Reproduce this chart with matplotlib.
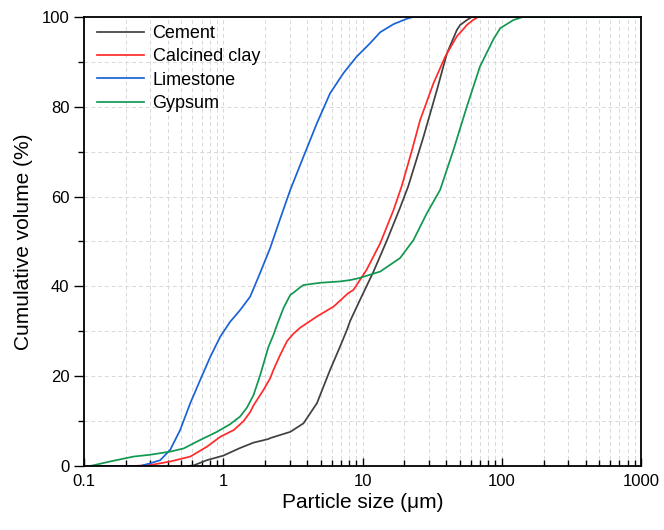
import numpy as np
import matplotlib.pyplot as plt
from matplotlib.ticker import LogLocator, MultipleLocator, FixedFormatter, FixedLocator

plt.rcParams['font.family'] = ['Liberation Sans', 'DejaVu Sans']

# Particle size (um) and cumulative volume (%)
cement_x = [0.55, 0.61, 0.764, 1.0, 1.12, 1.32, 1.56, 1.65, 2.11, 2.17, 3.03, 3.77, 4.71,
            5.85, 6.9, 7.73, 8.15, 9.6, 12.0, 15.0, 18.6, 21.3, 24.0, 27.4, 34.2, 40.4, 47.6,
            50.2, 56.1, 61.0, 1000]
cement_y = [0, 0.1, 1.3, 2.3, 3.0, 4.0, 4.9, 5.2, 6.0, 6.2, 7.6, 9.5, 14.0,
            21.4, 26.6, 30.3, 32.3, 37.0, 43.3, 50.3, 57.5, 62.3, 67.5, 73.3, 83.7, 91.9, 97.1,
            98.2, 99.3, 100, 100]

clay_x = [0.1, 0.226, 0.299, 0.416, 0.58, 0.764, 0.952, 1.12, 1.19, 1.40, 1.56, 1.65, 1.95,
          2.17, 2.30, 2.56, 2.87, 3.2, 3.57, 4.71, 6.2, 7.9, 8.6, 10.7, 13.4, 16.7, 19.2,
          22.5, 25.9, 32.3, 39.3, 47.6, 53.0, 56.1, 62.0, 67.8, 1000]
clay_y = [0, 0, 0.2, 1.0, 2.1, 4.3, 6.5, 7.6, 8.0, 10.0, 12.0, 13.5, 17.0,
          19.5, 21.5, 24.7, 27.8, 29.5, 30.8, 33.3, 35.5, 38.5, 39.2, 43.7, 49.6, 57.0, 62.5,
          70.0, 77.0, 85.2, 91.2, 95.7, 97.3, 98.2, 99.3, 100, 100]

lime_x = [0.1, 0.254, 0.299, 0.353, 0.416, 0.49, 0.58, 0.684, 0.807, 0.952, 1.12, 1.32,
          1.56, 1.84, 2.17, 2.56, 3.03, 3.77, 4.7, 5.85, 7.3, 9.1, 11.3, 13.4, 16.7, 20.8,
          23.2, 1000]
lime_y = [0, 0, 0.6, 1.3, 3.6, 8.0, 14.0, 19.2, 24.3, 28.8, 32.1, 34.7,
          37.7, 43.0, 48.5, 55.0, 61.5, 68.9, 76.3, 83.0, 87.5, 91.2, 94.1, 96.6, 98.4, 99.6,
          100, 100]

gyp_x = [0.111, 0.154, 0.227, 0.299, 0.416, 0.519, 0.684, 0.90, 1.12, 1.32, 1.48, 1.65,
         1.84, 2.11, 2.30, 2.43, 2.71, 3.03, 3.2, 3.57, 3.77, 4.97, 6.9, 8.15, 9.6, 13.4,
         18.6, 23.2, 29.0, 36.1, 45.0, 56.1, 69.6, 87.0, 97.5, 121.0, 142.0, 1000]
gyp_y = [0, 1.0, 2.1, 2.5, 3.2, 3.9, 5.8, 7.6, 9.3, 11.0, 13.0, 15.8,
         20.2, 26.5, 29.3, 31.4, 35.2, 38.1, 38.6, 39.8, 40.3, 40.8, 41.1, 41.4, 41.9, 43.3,
         46.3, 50.3, 56.3, 61.5, 70.4, 80.0, 88.9, 95.0, 97.5, 99.3, 100, 100]

series = [
    ('Cement', cement_x, cement_y, '#404040'),
    ('Calcined clay', clay_x, clay_y, '#ff2a2a'),
    ('Limestone', lime_x, lime_y, '#1a62d8'),
    ('Gypsum', gyp_x, gyp_y, '#109850'),
]

fig = plt.figure(figsize=(6.64, 5.30), dpi=100)
ax = fig.add_axes([0.1265, 0.1208, 0.8389, 0.8472])

for name, xs, ys, col in series:
    ax.plot(xs, ys, color=col, lw=1.25, label=name)

ax.set_xscale('log')
ax.set_xlim(0.1, 1000)
ax.set_ylim(0, 100)

ax.xaxis.set_major_locator(FixedLocator([0.1, 1, 10, 100, 1000]))
ax.xaxis.set_major_formatter(FixedFormatter(['0.1', '1', '10', '100', '1000']))
ax.xaxis.set_minor_locator(LogLocator(base=10, subs=np.arange(2, 10)))
ax.yaxis.set_major_locator(MultipleLocator(20))
ax.yaxis.set_minor_locator(MultipleLocator(10))

ax.grid(True, which='both', color='#d8d8d8', ls=(0, (4, 3)), lw=0.7)
ax.set_axisbelow(True)

ax.tick_params(axis='x', which='major', direction='in', length=6, width=1, labelsize=12, pad=6)
ax.tick_params(axis='x', which='minor', direction='in', length=4, width=1)
ax.tick_params(axis='y', which='major', direction='out', length=7, width=1, labelsize=12)
ax.tick_params(axis='y', which='minor', direction='out', length=4, width=1)
for s in ax.spines.values():
    s.set_linewidth(1.3)

ax.set_xlabel('Particle size (\u03bcm)', fontsize=15, labelpad=3)
ax.set_ylabel('Cumulative volume (%)', fontsize=15, labelpad=6)

ax.legend(loc='upper left', frameon=False, fontsize=13, handlelength=2.6,
          handletextpad=0.5, labelspacing=0.35, borderaxespad=0.3,
          bbox_to_anchor=(0.0, 1.01))

fig.savefig('out.png', dpi=100)
